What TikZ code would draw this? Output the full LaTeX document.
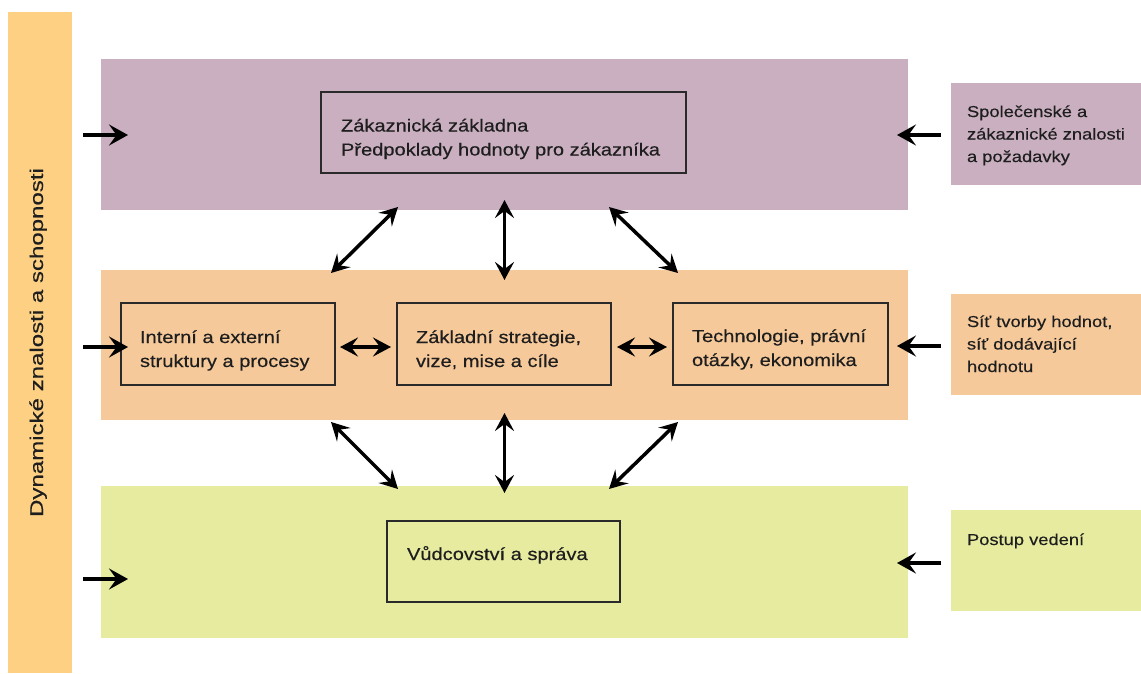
\documentclass[tikz,border=0pt]{standalone}
\usepackage{fontspec}
\setmainfont{Liberation Sans}[FakeStretch=1.16,FakeBold=0.35]
\newfontfamily\vfont{Liberation Sans}[FakeStretch=1.3,FakeBold=0.35]
\usetikzlibrary{arrows.meta}
\definecolor{cbar}{HTML}{FDD084}
\definecolor{cpur}{HTML}{C9AFC0}
\definecolor{cora}{HTML}{F6C99A}
\definecolor{cgrn}{HTML}{E6EB9F}
\definecolor{cline}{HTML}{2A2A2A}
\definecolor{ctext}{HTML}{1E1E1E}
\begin{document}
\begin{tikzpicture}[x=1pt,y=-1pt,
  band/.style={draw=none, inner sep=0pt, outer sep=0pt, anchor=north west},
  inbox/.style={draw=cline, line width=1.7pt, inner sep=0pt, outer sep=0pt, anchor=north west},
  txt/.style={inner sep=0pt, outer sep=0pt, anchor=base west, align=left, text=ctext, font=\fontsize{17.3}{24}\selectfont},
  rtxt/.style={inner sep=0pt, outer sep=0pt, anchor=base west, align=left, text=ctext, font=\fontsize{15.8}{22.5}\selectfont},
  tipA/.tip={Stealth[length=19pt,width=21pt,inset=7.5pt]},
  tipB/.tip={Stealth[length=18pt,width=19pt,inset=7pt]},
  arr/.style={line width=3.5pt, draw=black, -tipA},
  darr/.style={line width=3.5pt, draw=black, tipB-tipB}
]
\useasboundingbox (0,0) rectangle (1141,673);
\fill[white] (0,0) rectangle (1141,673);

% left bar
\node[band, fill=cbar, minimum width=64pt, minimum height=661pt] (bar) at (8,12) {};
\node[rotate=90, anchor=base, inner sep=0pt, text=ctext, font=\vfont\fontsize{18.5}{22}\selectfont] (bartext) at (43,342.5) {Dynamické znalosti a schopnosti};

% bands
\node[band, fill=cpur, minimum width=807pt, minimum height=151pt] (pur) at (101,59) {};
\node[band, fill=cora, minimum width=807pt, minimum height=150pt] (ora) at (101,270) {};
\node[band, fill=cgrn, minimum width=807pt, minimum height=152pt] (grn) at (101,486) {};

% right boxes
\node[band, fill=cpur, minimum width=190pt, minimum height=102pt] (rpur) at (951,83) {};
\node[band, fill=cora, minimum width=190pt, minimum height=101pt] (rora) at (951,294) {};
\node[band, fill=cgrn, minimum width=190pt, minimum height=101pt] (rgrn) at (951,510) {};

% inner boxes
\node[inbox, minimum width=365pt, minimum height=81pt] (cust) at (321,92) {};
\node[inbox, minimum width=214pt, minimum height=82pt] (lbox) at (121,303) {};
\node[inbox, minimum width=214pt, minimum height=82pt] (cbox) at (397,303) {};
\node[inbox, minimum width=215pt, minimum height=82pt] (rbox) at (673,303) {};
\node[inbox, minimum width=233pt, minimum height=81pt] (bbox) at (387,521) {};

% texts (base anchor = baseline of last line)
\node[txt] (tcust) at (341,155.5) {Zákaznická základna\\Předpoklady hodnoty pro zákazníka};
\node[txt] (tl) at (140,367) {Interní a externí\\struktury a procesy};
\node[txt] (tc) at (416,367) {Základní strategie,\\vize, mise a cíle};
\node[txt] (tr) at (692,366) {Technologie, právní\\otázky, ekonomika};
\node[txt] (tb) at (407,560) {Vůdcovství a správa};
\node[rtxt] (trp) at (967,162) {Společenské a\\zákaznické znalosti\\a požadavky};
\node[rtxt] (tro) at (967,372) {Síť tvorby hodnot,\\síť dodávající\\hodnotu};
\node[rtxt] (trg) at (967,545) {Postup vedení};

% arrow end coordinates
\coordinate (la1) at (83,135); \coordinate (lb1) at (128,135);
\coordinate (la2) at (83,347); \coordinate (lb2) at (128,347);
\coordinate (la3) at (83,579); \coordinate (lb3) at (128,579);
\coordinate (ra1) at (941,135); \coordinate (rb1) at (897,135);
\coordinate (ra2) at (941,346); \coordinate (rb2) at (897,346);
\coordinate (ra3) at (941,563); \coordinate (rb3) at (897,563);
\coordinate (d1a) at (331,273); \coordinate (d1b) at (398,207);
\coordinate (d2a) at (678,273); \coordinate (d2b) at (609,207);
\coordinate (d3a) at (331,422); \coordinate (d3b) at (398,489);
\coordinate (d4a) at (678,422); \coordinate (d4b) at (609,489);

% left arrows
\draw[arr] (la1) -- (lb1);
\draw[arr] (la2) -- (lb2);
\draw[arr] (la3) -- (lb3);
% right arrows
\draw[arr] (ra1) -- (rb1);
\draw[arr] (ra2) -- (rb2);
\draw[arr] (ra3) -- (rb3);

% vertical double arrows
\draw[darr, shorten <=-10pt, shorten >=-10pt] (pur.south) -- (ora.north);
\draw[darr, shorten <=-7pt, shorten >=-7pt] (ora.south) -- (grn.north);
% diagonal double arrows
\draw[darr] (d1a) -- (d1b);
\draw[darr] (d2a) -- (d2b);
\draw[darr] (d3a) -- (d3b);
\draw[darr] (d4a) -- (d4b);
% horizontal double arrows between middle boxes
\draw[darr, shorten <=5pt, shorten >=6pt] ([yshift=-3pt]lbox.east) -- ([yshift=-3pt]cbox.west);
\draw[darr, shorten <=6pt, shorten >=6pt] ([yshift=-3pt]cbox.east) -- ([yshift=-3pt]rbox.west);
\end{tikzpicture}
\end{document}
